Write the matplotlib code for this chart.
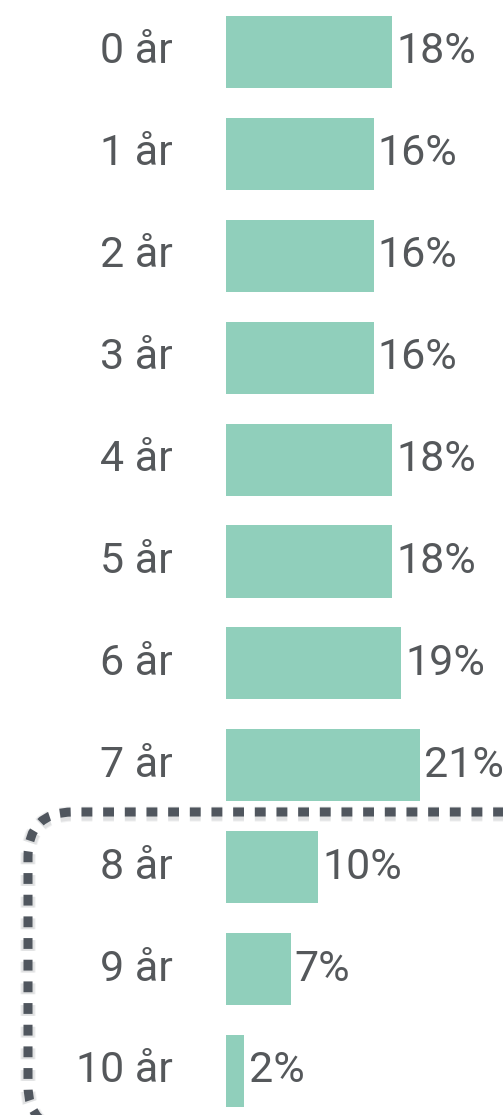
import matplotlib
matplotlib.use("Agg")
import matplotlib.pyplot as plt
from matplotlib.patches import FancyBboxPatch

categories = ["0 år", "1 år", "2 år", "3 år", "4 år", "5 år", "6 år", "7 år", "8 år", "9 år", "10 år"]
values = [18, 16, 16, 16, 18, 18, 19, 21, 10, 7, 2]
value_labels = ["18%", "16%", "16%", "16%", "18%", "18%", "19%", "21%", "10%", "7%", "2%"]

W, H = 503, 1115
fig = plt.figure(figsize=(W / 100, H / 100), dpi=100)
fig.patch.set_facecolor("white")

bar_color = "#90cfbb"
text_color = "#55585b"
font = ["Roboto", "DejaVu Sans"]
fs = 31

left_px = 226
px_per_pct = 9.22
ax = fig.add_axes([left_px / W, 0, 1 - left_px / W, 1])
ax.set_xlim(0, (W - left_px) / px_per_pct)
step = 101.9
c0 = 52
ax.set_ylim((H - c0) / step, -c0 / step)
ax.axis("off")

ypos = list(range(len(categories)))
bars = ax.barh(ypos, values, height=0.707, color=bar_color, left=0)

for i, (v, lab, cat) in enumerate(zip(values, value_labels, categories)):
    ax.annotate(lab, xy=(v, i), xytext=(3, 0), textcoords="offset points",
                ha="left", va="center", fontsize=fs, color=text_color, family=font)
    ax.annotate(cat, xy=(0, i), xytext=(-(left_px - 173) * 0.72, 0), textcoords="offset points",
                ha="right", va="center", fontsize=fs, color=text_color, family=font,
                annotation_clip=False)

# dashed rounded highlight box (in inches, from bottom-left)
bx0, by0 = 0.28, -0.15
bx1, by1 = 6.2, (H - 812) / 100
for lw, a in [(11, 0.08), (9.5, 0.10)]:
    shadow = FancyBboxPatch((bx0, by0 - 0.02), bx1 - bx0, by1 - by0,
                            boxstyle="round,pad=0,rounding_size=0.45",
                            transform=fig.dpi_scale_trans, fill=False,
                            edgecolor="#50565e", linewidth=lw, alpha=a,
                            linestyle=(0, (1.2 * 6.5 / lw, 1.2 * 6.5 / lw)),
                            clip_on=False)
    fig.patches.append(shadow)
box = FancyBboxPatch((bx0, by0), bx1 - bx0, by1 - by0,
                     boxstyle="round,pad=0,rounding_size=0.45",
                     transform=fig.dpi_scale_trans, fill=False,
                     edgecolor="#50565e", linewidth=6.5,
                     linestyle=(0, (1.2, 1.2)), capstyle="butt",
                     clip_on=False)
fig.patches.append(box)

fig.savefig("out.png", dpi=100)
